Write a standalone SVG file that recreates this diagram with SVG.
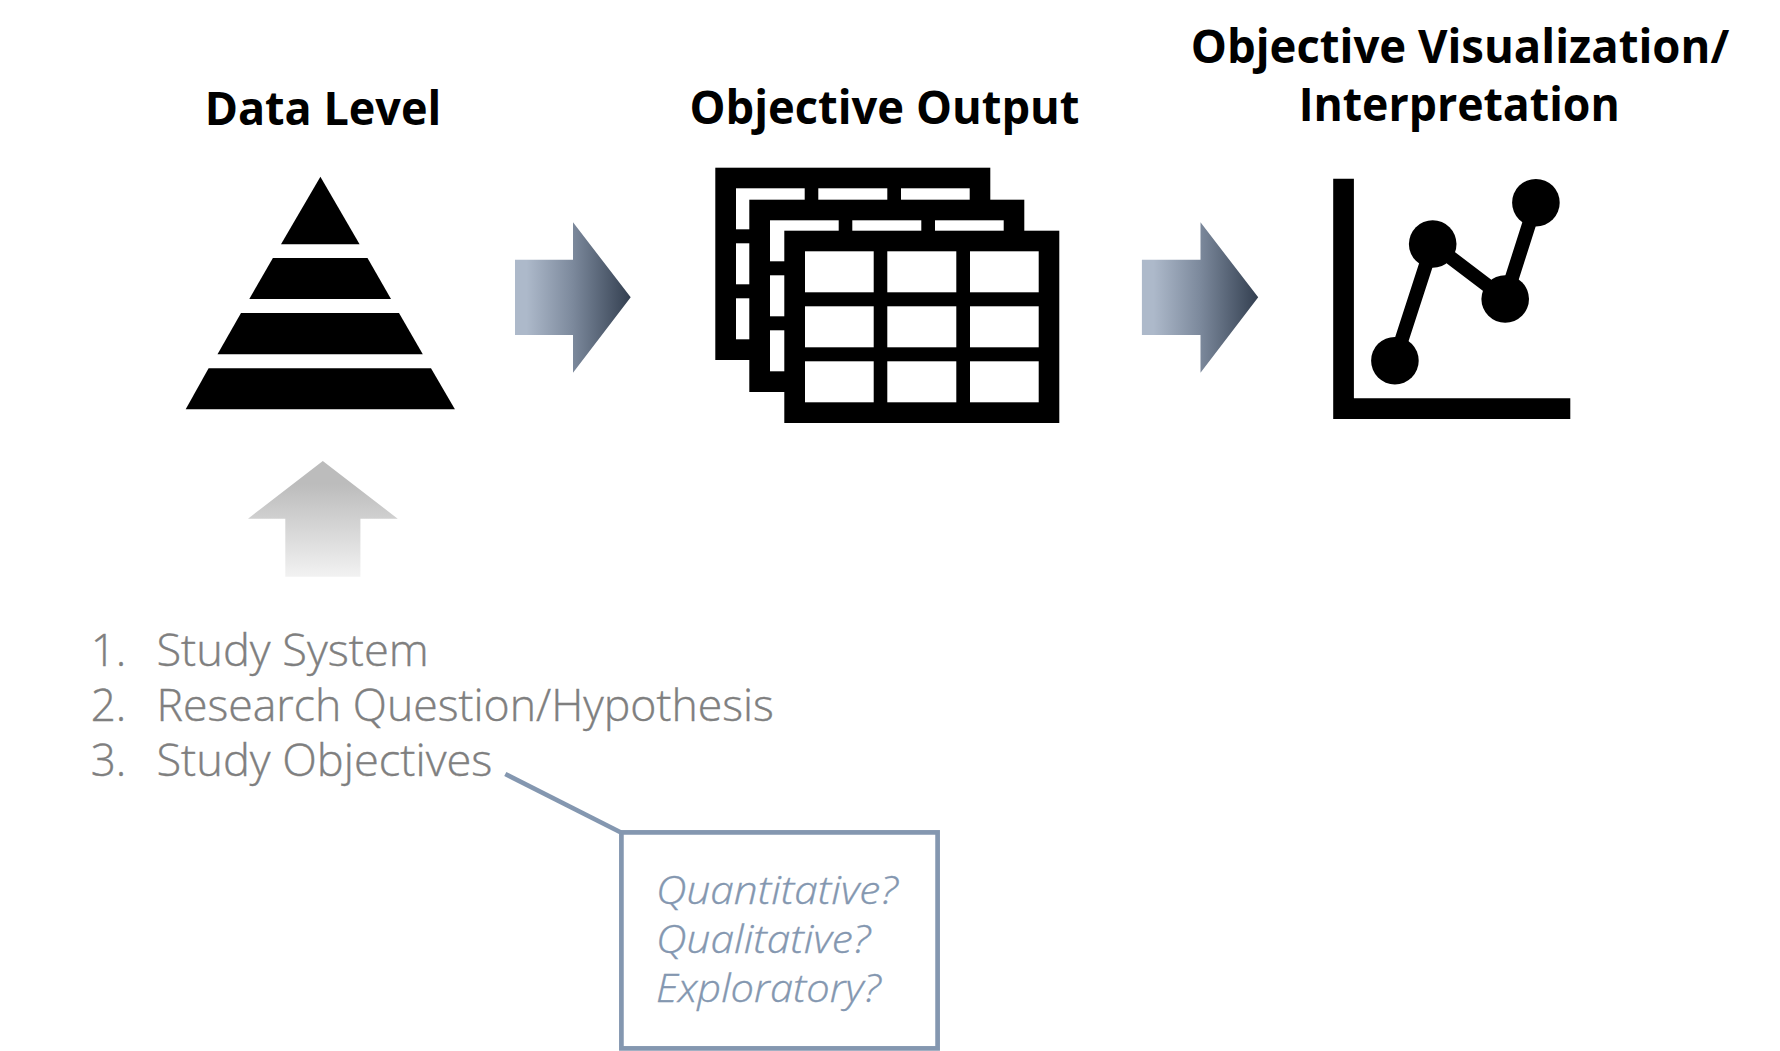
<svg xmlns="http://www.w3.org/2000/svg" width="1780" height="1051" viewBox="0 0 1780 1051">
<style>
.t{font-family:"Open Sans","Noto Sans","Liberation Sans",sans-serif}
.h{font-size:47px;font-weight:700;fill:#000}
.l{font-size:44px;font-weight:300;fill:#7f7f7f;stroke:#7f7f7f;stroke-width:.4px}
.q{font-size:39px;font-weight:300;font-style:italic;fill:#8497b0;stroke:#8497b0;stroke-width:.35px}
.k{fill:#000}
.c{fill:#fff}
</style>
<defs>
<linearGradient id="gb" x1="0" y1="0" x2="1" y2="0">
<stop offset="0.1" stop-color="#adb9ca"/><stop offset="0.5" stop-color="#7c899c"/><stop offset="1" stop-color="#333f50"/>
</linearGradient>
<linearGradient id="gg" x1="0" y1="0" x2="0" y2="1">
<stop offset="0.2" stop-color="#bcbcbc"/><stop offset="1" stop-color="#f2f2f2"/>
</linearGradient>
<g id="tb">
<rect class="k" x="784.3" y="230.7" width="275" height="192.3"/>
<rect class="c" x="805" y="251.3" width="68.7" height="41"/><rect class="c" x="887.3" y="251.3" width="69" height="41"/><rect class="c" x="970" y="251.3" width="68.7" height="41"/>
<rect class="c" x="805" y="306.3" width="68.7" height="41"/><rect class="c" x="887.3" y="306.3" width="69" height="41"/><rect class="c" x="970" y="306.3" width="68.7" height="41"/>
<rect class="c" x="805" y="361.3" width="68.7" height="41"/><rect class="c" x="887.3" y="361.3" width="69" height="41"/><rect class="c" x="970" y="361.3" width="68.7" height="41"/>
</g>
</defs>
<g id="connectors">
<path id="arrow-1" d="M515 259.7H573V222.3L630.7 297.3L573 372.7V335H515Z" fill="url(#gb)"/>
<path id="arrow-2" d="M1141.9 259.7H1200.5V222.3L1258.2 297.3L1200.5 372.7V335H1141.9Z" fill="url(#gb)"/>
<path id="arrow-up" d="M322.8 461L397.7 518.7H360.4V576.7H285.3V518.7H248Z" fill="url(#gg)"/>
<path id="callout-line" d="M505.3 774L621 832.5" fill="none" stroke="#8497b0" stroke-width="4.7"/>
</g>
<g id="data-level">
<text class="t h" x="204.7" y="125" textLength="236.5" lengthAdjust="spacingAndGlyphs">Data Level</text>
<path class="k" d="M320.4 176.7L359.6 244.3H281Z"/>
<path class="k" d="M272.9 258H367.5L391 299H249.3Z"/>
<path class="k" d="M241 313H399L422.8 354.3H217.5Z"/>
<path class="k" d="M208.6 368.3H431L454.9 409.3H185.7Z"/>
</g>
<g id="objective-output">
<text class="t h" x="689.5" y="124.3" textLength="390" lengthAdjust="spacingAndGlyphs">Objective Output</text>
<use href="#tb" x="-69" y="-63"/>
<use href="#tb" x="-35" y="-31"/>
<use href="#tb"/>
</g>
<g id="objective-visualization">
<text class="t h" x="1190.7" y="62.5" textLength="538.5" lengthAdjust="spacingAndGlyphs">Objective Visualization/</text>
<text class="t h" x="1298.7" y="121" textLength="321" lengthAdjust="spacingAndGlyphs">Interpretation</text>
<path class="k" d="M1333.2 178.7H1353.9V398.3H1570.3V419H1333.2Z"/>
<path d="M1394.9 360.7L1432.7 244L1505.2 299L1535.9 202.7" fill="none" stroke="#000" stroke-width="14"/>
<circle class="k" cx="1394.9" cy="360.7" r="23.8"/>
<circle class="k" cx="1432.7" cy="244" r="23.8"/>
<circle class="k" cx="1505.2" cy="299" r="23.8"/>
<circle class="k" cx="1535.9" cy="202.7" r="23.8"/>
</g>
<g id="study-list">
<text class="t l" x="90.7" y="665.7">1.</text>
<text class="t l" x="156.4" y="665.7" textLength="272.4" lengthAdjust="spacingAndGlyphs">Study System</text>
<text class="t l" x="90.7" y="721">2.</text>
<text class="t l" x="156.4" y="721" textLength="617.5" lengthAdjust="spacingAndGlyphs">Research Question/Hypothesis</text>
<text class="t l" x="90.7" y="776">3.</text>
<text class="t l" x="156.4" y="776" textLength="336" lengthAdjust="spacingAndGlyphs">Study Objectives</text>
</g>
<g id="callout-box">
<rect x="621.4" y="832.4" width="316.2" height="216" fill="#fff" stroke="#8497b0" stroke-width="4.7"/>
<text class="t q" x="656" y="904" textLength="241.7" lengthAdjust="spacingAndGlyphs">Quantitative?</text>
<text class="t q" x="656" y="953.3" textLength="214.4" lengthAdjust="spacingAndGlyphs">Qualitative?</text>
<text class="t q" x="656" y="1002.3" textLength="224.7" lengthAdjust="spacingAndGlyphs">Exploratory?</text>
</g>
</svg>
